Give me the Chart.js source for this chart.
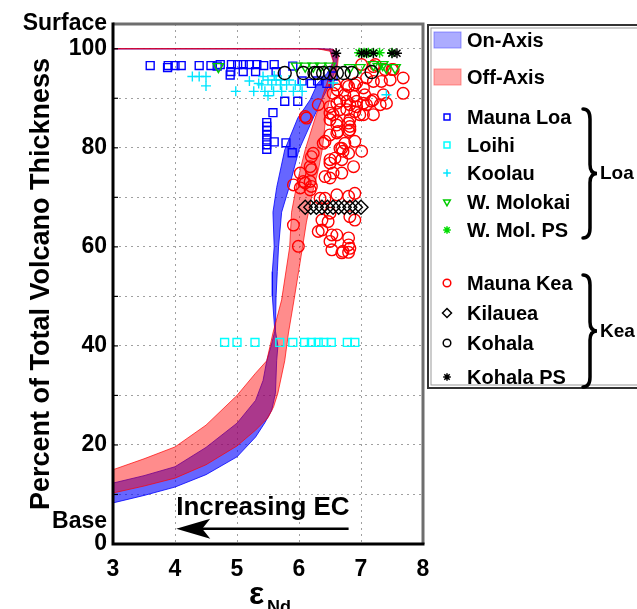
<!DOCTYPE html>
<html><head><meta charset="utf-8">
<script src="https://cdn.jsdelivr.net/npm/chart.js@4/dist/chart.umd.min.js"></script>
<style>html,body{margin:0;padding:0;background:#fff;}canvas{display:block;}</style>
</head><body>
<canvas id="c" width="637" height="609"></canvas>
<script>
// ---------- DATA ----------
const xTickValues = [3, 4, 5, 6, 7, 8];
const yTickValues = [0, 4.5, 10, 20, 30, 40, 50, 60, 70, 80, 90, 100, 105];
const yTickLabels = ['0', 'Base', '', '20', '', '40', '', '60', '', '80', '', '100', 'Surface'];

const onAxisBand = [
  [3,8.3],[3.5,9.8],[4,11.5],[4.5,14],[5,17.6],[5.3,21.6],[5.45,24.5],[5.56,27],[5.62,30.5],[5.64,37],[5.66,40],[5.62,43],
  [5.63,50],[5.65,55],[5.67,60],[5.72,67],[5.84,72],[6.0,79.6],[6.23,86],[6.37,89.7],[6.5,93],[6.6,96],[6.63,99],
  [6.55,99.9],[6.3,100],[3,100],[6.3,100],[6.5,99.7],[6.56,97.5],[6.45,95],[6.3,93],[6.18,89.7],[5.98,86],[5.77,79.6],
  [5.64,72],[5.58,67],[5.6,60],[5.57,55],[5.57,50],[5.61,43],[5.55,40],[5.48,37],[5.42,33],[5.3,29],[5,24.4],
  [4.5,19.5],[4,15.6],[3.5,13.8],[3,12.3]
];
const offAxisBand = [
  [3,10.3],[3.5,11.7],[4,13.3],[4.5,16],[5,19.8],[5.3,23],[5.5,25.5],[5.59,27.7],[5.66,30.5],[5.77,37],[5.83,42.6],
  [5.92,49.3],[6.05,59.4],[6.12,65],[6.22,71],[6.32,76],[6.38,80],[6.43,86],[6.49,89.7],[6.56,93],[6.62,96.5],[6.64,99],
  [6.55,99.9],[6.3,100],[3,100],[6.3,100],[6.5,99.5],[6.55,97.5],[6.45,93],[6.36,89.7],[6.26,86],[6.1,79.6],[5.97,73],
  [5.88,67],[5.85,60],[5.72,49.3],[5.58,42.6],[5.48,37],[5.3,34.5],[5,30],[4.5,24],[4,19.6],[3.5,17.2],[3,15]
];

const maunaLoa = [
  [3.6,96.6],[3.88,96.2],[3.89,96.6],[4.0,96.6],[4.1,96.6],[4.39,96.6],[4.58,96.6],[4.68,96.5],[4.73,96.8],[4.91,96.8],
  [5.01,96.8],[5.1,96.8],[5.2,96.8],[5.32,96.8],[5.43,96.6],[5.6,96.8],[4.9,95.4],[5.1,95.4],[5.3,95.4],[5.63,95.4],
  [4.89,94.7],[5.77,89.4],[5.98,89.4],[5.58,87.1],[5.48,85.1],[5.48,84.3],[5.48,83.5],[5.48,82.6],[5.48,81.6],
  [5.48,80.6],[5.48,79.7],[5.6,81.2],[5.79,81],[5.89,79],[5.9,96.5],[6.05,93.5],[6.2,93],[6.3,93.5],[6.45,93],[6.55,94.5]
];
const loihi = [
  [4.8,40.7],[5.0,40.7],[5.29,40.7],[5.69,40.7],[5.9,40.7],[6.09,40.7],[6.2,40.7],[6.31,40.7],[6.4,40.7],[6.52,40.7],
  [6.78,40.7],[6.9,40.7]
];
const koolau = [
  [4.28,94.4],[4.39,94.4],[4.5,94.4],[4.5,92.5],[4.98,91.4],[5.27,91.4],[5.42,94.4],[5.5,93.7],[5.63,93.7],[5.71,93.7],
  [5.84,93.7],[5.4,92.7],[5.56,92.7],[5.7,92.7],[5.8,92.7],[5.94,92.7],[6.02,92.7],[5.45,91.4],[5.59,91.4],[5.72,91.4],
  [5.91,91.4],[6.05,91.4],[5.2,93.5],[5.35,93],[5.6,94.5],[6.55,93.1],[7.41,90.7],[5.5,90.5]
];
const wMolokai = [
  [4.7,96.4],[5.96,96.5],[6.1,96.5],[6.23,96.5],[6.35,96.5],[6.5,96.5],[6.82,96.2],[6.98,96.2],[7.28,96.4],[7.41,96.2],
  [7.55,96.2],[7.2,96.8],[7.35,96.8]
];
const wMolPS = [[6.97,99.2],[7.05,99.2],[7.12,99.2],[7.2,99.2],[7.3,99.2],[7.5,99.2]];
const maunaKea = [
  [7.01,96.8],[7.2,96.4],[7.39,95.8],[7.52,95.8],[7.68,94.1],[7.68,91],[7.09,94.1],[7.2,93.4],[6.9,92.7],[6.8,92.4],
  [6.62,91.7],[6.88,90.4],[6.77,89.4],[6.61,89],[6.5,88.3],[6.66,87.7],[6.77,87.7],[6.93,88.3],[7.09,88.7],[7.2,89.7],
  [7.2,86.7],[6.98,86.7],[6.55,86.7],[6.5,85.7],[6.61,85.3],[6.8,85],[6.82,83.6],[6.61,83],[6.5,82.6],[6.39,80.9],
  [6.74,80.9],[6.9,81.3],[6.69,79.9],[6.8,78.9],[7.01,79.3],[6.69,77.6],[6.5,77.6],[6.5,76.9],[6.88,76.2],[6.55,74.9],
  [6.69,74.9],[6.23,78.9],[6.18,76.2],[6.02,74.9],[5.91,72.5],[6.02,71.9],[6.18,71.5],[6.1,86.3],[6.31,88.7],
  [7.23,96.8],[7.5,95.8],[6.58,92.7],[6.77,92.7],[6.93,93.1],[7.04,92.1],[7.33,93.4],[7.47,93.7],[6.55,91],[6.74,90.7],
  [7.06,90.7],[7.36,90.7],[6.66,89.4],[7.04,89],[7.17,89.4],[7.31,88.7],[7.41,89],
  [6.82,88.7],[6.93,89.4],[6.5,87],[6.9,87.3],[7.04,86.7],[6.61,84.6],[6.82,84.3],[6.63,83.3],[6.8,83.3],[6.42,81.3],
  [6.66,79.9],[6.71,79.3],[6.58,77.9],[6.2,78.2],[6.2,75.6],[6.18,73.2],[6.07,73.2],[6.42,74.2],[6.5,73.9],[6.12,86],[6.82,85.7],
  [6.1,72.9],[6.2,72.2],[6.34,69.8],[6.42,69.8],[6.61,70.5],[6.8,70.2],[6.9,70.8],[6.5,66.8],[6.37,65.4],[6.47,65.1],
  [6.82,66.1],[6.9,65.4],[6.31,63.1],[6.37,63.4],[6.53,62.4],[6.61,62.4],[6.5,61.1],[6.53,59.4],[6.71,59.1],[6.8,61.8],
  [6.8,60.4],[6.82,59.7],[5.91,64.4],[5.99,60.1],[6.69,58.8],[6.8,58.9]
];
const kilauea = [[6.1,68],[6.19,68],[6.28,68],[6.37,68],[6.46,68],[6.55,68],[6.64,68],[6.73,68],[6.82,68],[6.91,68],[7.0,68]];
const kohala = [[5.77,95.1],[6.07,95.1],[6.25,95.1],[6.3,95.1],[6.39,95.1],[6.5,95.1],[6.61,95.1],[6.72,95.1],[6.85,95.1],[7.17,95.3]];
const kohalaPS = [[6.6,99.1],[7.01,99.1],[7.09,99.1],[7.2,99.1],[7.5,99.1],[7.58,99.1]];

const annotationText = 'Increasing EC';
const annotationTextAt = [4.02, 5.9];
const arrowFrom = [6.8, 3.1];
const arrowTo = [4.02, 3.1];

// ---------- CHART ----------
const FONT = '"Liberation Sans", Arial, Helvetica, sans-serif';
const pts = a => a.map(([x, y]) => ({x, y}));
const T = 'rgba(0,0,0,0)';

function sc(label, data, color, style, radius, extra) {
  return Object.assign({
    type: 'scatter', label, data: pts(data),
    pointStyle: style, pointRadius: radius,
    borderColor: color, pointBorderColor: color,
    backgroundColor: T, pointBackgroundColor: T,
    borderWidth: 1.4, pointBorderWidth: 1.4, pointRotation: 0
  }, extra || {});
}

const dsKohalaPS = sc('Kohala PS', kohalaPS, '#000000', 'star', 5);
const dsWMolPS = sc('W. Mol. PS', wMolPS, '#00dd00', 'star', 5);
const dsKohala = sc('Kohala', kohala, '#000000', 'circle', 6.5);
const dsKilauea = sc('Kilauea', kilauea, '#000000', 'rectRot', 7);
const dsWMolokai = sc('W. Molokai', wMolokai, '#00cc00', 'triangle', 6, {pointRotation: 180});
const dsKoolau = sc('Koolau', koolau, '#00e5ff', 'cross', 5);
const dsMaunaLoa = sc('Mauna Loa', maunaLoa, '#0000ff', 'rect', 5.6);
const dsLoihi = sc('Loihi', loihi, '#00ffff', 'rect', 5.6);
const dsMaunaKea = sc('Mauna Kea', maunaKea, '#ff0000', 'circle', 5.8);

const dsOff = {
  type: 'line', label: 'Off-Axis', data: pts(offAxisBand), fill: 'shape',
  backgroundColor: 'rgba(255,0,0,0.45)', borderColor: 'rgba(255,0,0,0.7)', borderWidth: 1,
  pointRadius: 0, tension: 0
};
const dsOn = {
  type: 'line', label: 'On-Axis', data: pts(onAxisBand), fill: 'shape',
  backgroundColor: 'rgba(0,0,255,0.6)', borderColor: 'rgba(0,0,255,0.8)', borderWidth: 1,
  pointRadius: 0, tension: 0
};

function drawBrace(ctx, x, y0, y1, w) {
  const ym = (y0 + y1) / 2, h = w * 0.5;
  ctx.beginPath();
  ctx.moveTo(x, y0);
  ctx.quadraticCurveTo(x + h, y0, x + h, y0 + 10);
  ctx.lineTo(x + h, ym - 9);
  ctx.quadraticCurveTo(x + h, ym, x + w, ym);
  ctx.quadraticCurveTo(x + h, ym, x + h, ym + 9);
  ctx.lineTo(x + h, y1 - 10);
  ctx.quadraticCurveTo(x + h, y1, x, y1);
  ctx.stroke();
}

function legendPoint(ctx, ds, x, y) {
  ctx.save();
  ctx.strokeStyle = ds.borderColor;
  ctx.fillStyle = T;
  ctx.lineWidth = 1.5;
  const r = ds.pointStyle === 'rect' ? 4.2 : (ds.pointStyle === 'rectRot' ? 4.5 : 3.8);
  if (Chart.helpers && Chart.helpers.drawPoint) {
    Chart.helpers.drawPoint(ctx, {pointStyle: ds.pointStyle, rotation: ds.pointRotation || 0, radius: r, borderWidth: 1.5}, x, y);
  } else {
    ctx.beginPath(); ctx.arc(x, y, r, 0, Math.PI * 2); ctx.stroke();
  }
  ctx.restore();
}

const overlay = {
  id: 'overlay',
  afterDatasetsDraw(chart) {
    const {ctx, chartArea: a, scales: {x, y}} = chart;
    ctx.save();
    // annotation text and arrow
    ctx.fillStyle = '#000';
    ctx.font = 'bold 26px ' + FONT;
    ctx.textAlign = 'left';
    ctx.textBaseline = 'alphabetic';
    ctx.fillText(annotationText, x.getPixelForValue(annotationTextAt[0]), y.getPixelForValue(annotationTextAt[1]));
    const ax0 = x.getPixelForValue(arrowFrom[0]);
    const ax1 = x.getPixelForValue(arrowTo[0]);
    const ay = y.getPixelForValue(arrowFrom[1]);
    ctx.strokeStyle = '#000';
    ctx.lineWidth = 2.5;
    ctx.beginPath(); ctx.moveTo(ax0, ay); ctx.lineTo(ax1 + 20, ay); ctx.stroke();
    ctx.beginPath();
    ctx.moveTo(ax1, ay);
    ctx.lineTo(ax1 + 34, ay - 10);
    ctx.lineTo(ax1 + 26, ay);
    ctx.lineTo(ax1 + 34, ay + 10);
    ctx.closePath();
    ctx.fill();
    // inner tick marks on left axis
    ctx.lineWidth = 1.2;
    for (let v = 10; v <= 100; v += 10) {
      const py = y.getPixelForValue(v);
      ctx.beginPath(); ctx.moveTo(a.left, py); ctx.lineTo(a.left + 5, py); ctx.stroke();
    }
    // frame
    ctx.lineWidth = 3;
    ctx.strokeStyle = '#6e6e6e';
    ctx.beginPath(); ctx.moveTo(a.left, a.top); ctx.lineTo(a.right, a.top); ctx.lineTo(a.right, a.bottom); ctx.stroke();
    ctx.strokeStyle = '#000';
    ctx.beginPath(); ctx.moveTo(a.left, a.top - 1.5); ctx.lineTo(a.left, a.bottom); ctx.lineTo(a.right + 1.5, a.bottom); ctx.stroke();
    ctx.restore();
  },
  afterDraw(chart) {
    const {ctx} = chart;
    ctx.save();
    // x axis title: epsilon with subscript Nd
    ctx.fillStyle = '#000';
    ctx.textAlign = 'left';
    ctx.textBaseline = 'alphabetic';
    ctx.font = 'bold 32px ' + FONT;
    ctx.fillText('ε', 249, 604);
    ctx.font = 'bold 18px ' + FONT;
    ctx.fillText('Nd', 267, 613);

    // legend box
    ctx.strokeStyle = '#333';
    ctx.lineWidth = 2;
    ctx.strokeRect(428, 25, 215, 363);
    ctx.strokeStyle = '#999';
    ctx.lineWidth = 1;
    ctx.strokeRect(431, 28, 215, 357);

    const textX = 467, markX = 447;
    ctx.font = 'bold 20px ' + FONT;
    ctx.textBaseline = 'middle';
    // band patches
    const patches = [[dsOn, 40, 'rgba(90,90,255,0.5)', 'rgba(90,90,255,0.6)'], [dsOff, 77, 'rgba(255,80,80,0.5)', 'rgba(255,80,80,0.6)']];
    patches.forEach(([ds, py, fillC, strokeC]) => {
      ctx.fillStyle = fillC;
      ctx.fillRect(434, py - 8, 27, 16);
      ctx.strokeStyle = strokeC; ctx.lineWidth = 1;
      ctx.strokeRect(434, py - 8, 27, 16);
      ctx.fillStyle = '#000';
      ctx.fillText(ds.label, textX, py + 1);
    });
    const items = [
      [dsMaunaLoa, 117], [dsLoihi, 145], [dsKoolau, 173], [dsWMolokai, 202], [dsWMolPS, 230],
      [dsMaunaKea, 283], [dsKilauea, 313], [dsKohala, 343], [dsKohalaPS, 377]
    ];
    items.forEach(([ds, py]) => {
      legendPoint(ctx, ds, markX, py);
      ctx.fillStyle = '#000';
      ctx.fillText(ds.label, textX, py + 1);
    });
    // braces and group labels
    ctx.strokeStyle = '#000';
    ctx.lineWidth = 3.5;
    ctx.lineCap = 'round';
    drawBrace(ctx, 583, 109, 238, 14);
    drawBrace(ctx, 583, 275, 387, 14);
    ctx.font = 'bold 19px ' + FONT;
    ctx.fillText('Loa', 600, 174);
    ctx.fillText('Kea', 600, 332);
    ctx.restore();
  }
};

new Chart(document.getElementById('c'), {
  type: 'scatter',
  data: {
    datasets: [dsKohalaPS, dsWMolPS, dsKohala, dsKilauea, dsWMolokai, dsKoolau, dsMaunaLoa, dsLoihi, dsMaunaKea, dsOff, dsOn]
  },
  options: {
    responsive: false,
    animation: false,
    events: [],
    layout: {padding: {top: 24, right: 214, left: 0, bottom: 0}},
    plugins: {legend: {display: false}, tooltip: {enabled: false}},
    scales: {
      x: {
        type: 'linear', min: 3, max: 8,
        afterBuildTicks: s => { s.ticks = xTickValues.map(v => ({value: v})); },
        afterFit: s => { s.height = 65; },
        ticks: {autoSkip: false, padding: 12, color: '#000', font: {family: FONT, size: 23, weight: 'bold'}, callback: v => String(v)},
        grid: {color: '#a0a0a0', lineWidth: 1, drawTicks: false},
        border: {display: false, dash: [2, 4]}
      },
      y: {
        type: 'linear', min: 0, max: 105,
        afterBuildTicks: s => { s.ticks = yTickValues.map(v => ({value: v})); },
        afterFit: s => { s.width = 113; },
        ticks: {autoSkip: false, padding: 6, color: '#000', font: {family: FONT, size: 23, weight: 'bold'},
          callback: (v, i) => yTickLabels[i]},
        grid: {
          color: c => (c.tick && [0, 4.5, 105].includes(c.tick.value)) ? T : '#a0a0a0',
          lineWidth: 1, drawTicks: false
        },
        border: {display: false, dash: [2, 4]},
        title: {display: true, text: 'Percent of Total Volcano Thickness', color: '#000',
          font: {family: FONT, size: 27, weight: 'bold'}, padding: {top: 25, bottom: 0}}
      }
    }
  },
  plugins: [overlay]
});
</script>
</body></html>
